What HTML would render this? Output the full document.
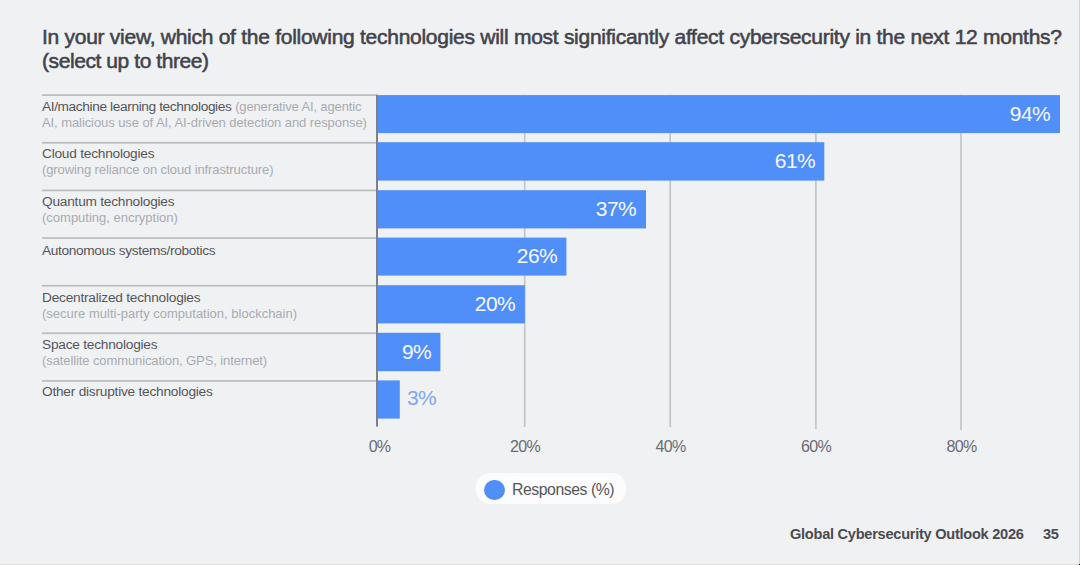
<!DOCTYPE html>
<html><head><meta charset="utf-8">
<style>
html,body{margin:0;padding:0;}
body{width:1080px;height:565px;position:relative;overflow:hidden;background:#f0f1f3;font-family:"Liberation Sans",sans-serif;}
svg{position:absolute;left:0;top:0;}
.title{position:absolute;left:42px;top:25px;font-size:21px;font-weight:normal;-webkit-text-stroke:0.55px #42434b;color:#42434b;line-height:24px;white-space:nowrap;letter-spacing:-0.27px;}
.lab{position:absolute;left:42px;font-size:13.2px;line-height:16px;color:#55565c;white-space:nowrap;letter-spacing:0px;}
.lab .s{color:#a8abb2;font-size:13px;letter-spacing:-0.1px;line-height:16px;}
.lab .m{font-size:13.7px;line-height:16px;}
.val{position:absolute;font-size:21px;line-height:20px;color:#f6f9ff;white-space:nowrap;letter-spacing:-0.62px;}
.tick{position:absolute;top:438px;font-size:16px;line-height:17px;color:#6a6b72;white-space:nowrap;width:60px;text-align:center;letter-spacing:-0.7px;}
.legend{position:absolute;left:476px;top:472.5px;width:150px;height:31.5px;border-radius:14px;background:#fcfcfd;}
.dot{position:absolute;left:484px;top:479.5px;width:20.5px;height:20.5px;border-radius:50%;background:#508efa;}
.legtxt{position:absolute;left:512px;top:481px;font-size:15.8px;line-height:17px;color:#55565c;white-space:nowrap;letter-spacing:-0.45px;}
.foot{position:absolute;top:526px;font-size:14.6px;font-weight:bold;line-height:17px;color:#4a4b52;white-space:nowrap;letter-spacing:-0.27px;}
</style></head><body>
<div class="title">In your view, which of the following technologies will most significantly affect cybersecurity in the next 12 months?<br><span style="letter-spacing:-0.42px">(select up to three)</span></div>

<svg width="1080" height="565" viewBox="0 0 1080 565">
 <g fill="#c3c5cc">
  <rect x="523.85" y="94.8" width="1.7" height="332.2"/>
  <rect x="669.35" y="94.8" width="1.7" height="332.4"/>
  <rect x="815.05" y="94.8" width="1.7" height="334.2"/>
  <rect x="960.15" y="94.8" width="1.7" height="335.4"/>
 </g>
 <g fill="#babcc4">
  <rect x="42" y="94.3" width="335" height="1.7"/>
  <rect x="42" y="141.9" width="335" height="1.7"/>
  <rect x="42" y="189.6" width="335" height="1.7"/>
  <rect x="42" y="237.2" width="335" height="1.7"/>
  <rect x="42" y="284.9" width="335" height="1.7"/>
  <rect x="42" y="332.4" width="335" height="1.7"/>
  <rect x="42" y="380.1" width="335" height="1.7"/>
 </g>
 <g fill="#508efa">
  <rect x="378" y="95.1" width="682" height="38"/>
  <rect x="378" y="142.2" width="446.3" height="38.4"/>
  <rect x="378" y="190.2" width="268" height="38.2"/>
  <rect x="378" y="237.6" width="188.4" height="38"/>
  <rect x="378" y="285.2" width="146.9" height="38.2"/>
  <rect x="378" y="332.8" width="62.4" height="38.4"/>
  <rect x="378" y="380.4" width="21.8" height="38.2"/>
 </g>
 <rect x="376" y="94.8" width="2" height="331.8" fill="#7d8089"/>
</svg>

<div class="lab" style="top:99px"><span class="m" style="letter-spacing:-0.38px">AI/machine learning technologies</span> <span class="s" style="letter-spacing:-0.14px">(generative AI, agentic</span><br><span class="s" style="letter-spacing:-0.08px">AI, malicious use of AI, AI-driven detection and response)</span></div>
<div class="lab" style="top:146px"><span class="m" style="letter-spacing:-0.23px">Cloud technologies</span><br><span class="s">(growing reliance on cloud infrastructure)</span></div>
<div class="lab" style="top:194px"><span class="m" style="letter-spacing:-0.23px">Quantum technologies</span><br><span class="s" style="letter-spacing:0px">(computing, encryption)</span></div>
<div class="lab" style="top:243px"><span class="m" style="letter-spacing:-0.35px">Autonomous systems/robotics</span></div>
<div class="lab" style="top:290px"><span class="m" style="letter-spacing:-0.23px">Decentralized technologies</span><br><span class="s" style="letter-spacing:0px">(secure multi-party computation, blockchain)</span></div>
<div class="lab" style="top:337px"><span class="m" style="letter-spacing:-0.23px">Space technologies</span><br><span class="s">(satellite communication, GPS, internet)</span></div>
<div class="lab" style="top:384px"><span class="m" style="letter-spacing:-0.23px">Other disruptive technologies</span></div>

<div class="val" style="right:30px;top:104px">94%</div>
<div class="val" style="right:265px;top:151px">61%</div>
<div class="val" style="right:444px;top:199px">37%</div>
<div class="val" style="right:523px;top:246px">26%</div>
<div class="val" style="right:565px;top:294px">20%</div>
<div class="val" style="right:649px;top:342px">9%</div>
<div class="val" style="left:407px;top:388px;color:#7fa5f3">3%</div>

<div class="tick" style="left:349.5px">0%</div>
<div class="tick" style="left:495px">20%</div>
<div class="tick" style="left:640.5px">40%</div>
<div class="tick" style="left:786px">60%</div>
<div class="tick" style="left:931.5px">80%</div>

<div class="legend"></div>
<div class="dot"></div>
<div class="legtxt">Responses (%)</div>

<div class="foot" style="left:790px">Global Cybersecurity Outlook 2026</div>
<div class="foot" style="left:1043px">35</div>
<div style="position:absolute;left:1079px;top:0;width:1px;height:565px;background:#d4d4d5"></div>
<div style="position:absolute;left:0;top:564px;width:1079px;height:1px;background:#dcdcdd"></div>
<div style="position:absolute;left:1079px;top:564px;width:1px;height:1px;background:#000"></div>
</body></html>
